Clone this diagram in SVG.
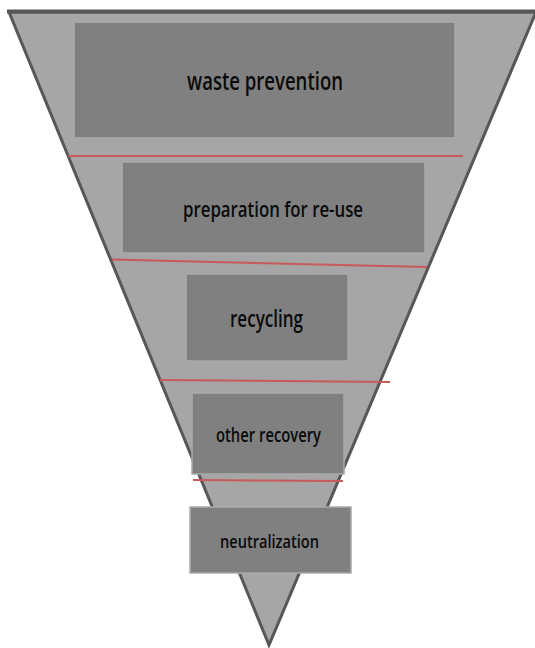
<svg xmlns="http://www.w3.org/2000/svg" width="535" height="648" viewBox="0 0 535 648">
  <style>
    .funnel { fill: #a6a6a6; stroke: #575757; stroke-width: 3; stroke-linejoin: miter; }
    .level rect { fill: #808080; stroke: #aaaaaa; stroke-width: 1.5; }
    .level text { font-family: "Open Sans", "Noto Sans", sans-serif; font-weight: 600; fill: #0a0a0a; text-anchor: start; }
    .divider line { stroke: #c85a5a; stroke-width: 2; }
  </style>

  <!-- inverted triangle of the hierarchy -->
  <polygon class="funnel" points="9,12 536,12 269,645"/>
  <line x1="7" y1="11.5" x2="535" y2="11.5" stroke="#575757" stroke-width="4"/>

  <!-- red separators between the levels -->
  <g id="connectors" class="divider">
    <line x1="68" y1="156" x2="463" y2="156"/>
    <line x1="112" y1="259.5" x2="427" y2="267"/>
    <line x1="160" y1="380" x2="390" y2="382"/>
    <line x1="193" y1="480" x2="343" y2="481"/>
  </g>

  <g id="waste-prevention" class="level">
    <rect x="74" y="22" width="381" height="116"/>
    <text x="187" y="90" font-size="25" textLength="156" lengthAdjust="spacingAndGlyphs">waste prevention</text>
  </g>

  <g id="preparation-for-re-use" class="level">
    <rect x="122" y="162" width="303" height="91"/>
    <text x="183" y="217" font-size="21" textLength="180" lengthAdjust="spacingAndGlyphs">preparation for re-use</text>
  </g>

  <g id="recycling" class="level">
    <rect x="186" y="274" width="162" height="87"/>
    <text x="230" y="327" font-size="23" textLength="73" lengthAdjust="spacingAndGlyphs">recycling</text>
  </g>

  <g id="other-recovery" class="level">
    <rect x="192" y="393" width="152" height="81"/>
    <text x="216" y="442" font-size="19" textLength="105" lengthAdjust="spacingAndGlyphs">other recovery</text>
  </g>

  <g id="neutralization" class="level">
    <rect x="190" y="507" width="161" height="66"/>
    <text x="220" y="548" font-size="18" textLength="99" lengthAdjust="spacingAndGlyphs">neutralization</text>
  </g>
</svg>
